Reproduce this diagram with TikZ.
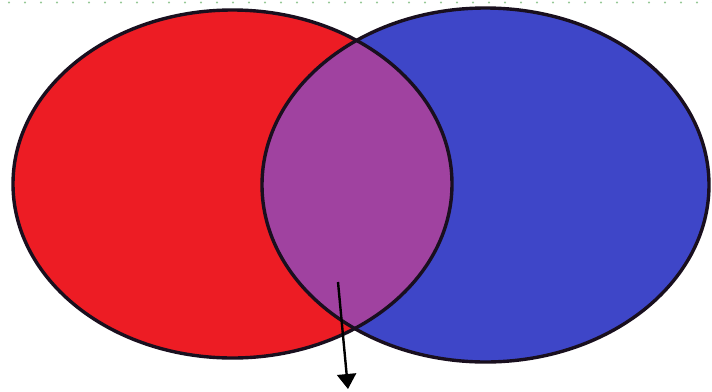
\documentclass[tikz,border=0pt]{standalone}
\usetikzlibrary{arrows.meta}
\definecolor{vred}{RGB}{237,28,36}
\definecolor{vblue}{RGB}{62,70,200}
\definecolor{vpurple}{RGB}{160,66,160}
\definecolor{vline}{RGB}{25,15,30}
\definecolor{dotgreen}{RGB}{150,200,150}
\tikzset{
  outline/.style={draw=vline, line width=3.4pt},
  pointer/.style={draw=black, line width=2.4pt, -{Triangle[length=15pt,width=19pt]}},
}
\begin{document}
\begin{tikzpicture}[x=1pt,y=-1pt]
\useasboundingbox (0,0) rectangle (712,391);
\fill[white] (0,0) rectangle (712,391);
% dotted top line
\foreach \i in {0,...,44} {
  \fill[dotgreen] (9+16*\i,2.5) circle (1.1);
}
% fills
\fill[vred] (232.5,184) ellipse [x radius=219.5, y radius=174];
\fill[vblue] (485.5,185) ellipse [x radius=223.5, y radius=177];
\begin{scope}
  \clip (232.5,184) ellipse [x radius=219.5, y radius=174];
  \fill[vpurple] (485.5,185) ellipse [x radius=223.5, y radius=177];
\end{scope}
% outlines
\draw[outline] (232.5,184) ellipse [x radius=219.5, y radius=174];
\draw[outline] (485.5,185) ellipse [x radius=223.5, y radius=177];
% arrow
\coordinate (start) at (338,282);
\coordinate (tip) at (348,389);
\draw[pointer] (start) -- (tip);
\end{tikzpicture}
\end{document}
